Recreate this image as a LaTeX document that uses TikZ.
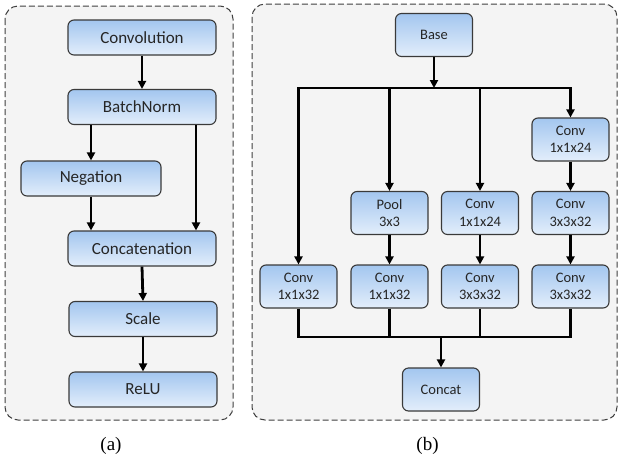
\documentclass[tikz,border=0pt]{standalone}
\usepackage{fontspec}
\setmainfont{Liberation Serif}
\newfontfamily\boxfont{Carlito}
\usetikzlibrary{arrows.meta,positioning}
\definecolor{boxtop}{HTML}{A3C6EF}
\definecolor{boxbot}{HTML}{E3EEFB}
\definecolor{panelbg}{HTML}{F4F4F4}
\definecolor{edge}{HTML}{3A3A3A}
\tikzset{
  blk/.style={draw=edge, line width=1.1pt, rounded corners=6pt, top color=boxtop, bottom color=boxbot,
    inner sep=0pt, align=center, text=black!85},
  ablk/.style={blk, minimum height=35pt, font=\boxfont\fontsize{17}{20}\selectfont},
  bblk/.style={blk, minimum width=77pt, minimum height=43pt, font=\boxfont\fontsize{14.5}{17.5}\selectfont},
  panel/.style={draw=black!75, line width=1pt, dash pattern=on 6pt off 3pt, rounded corners=13pt, fill=panelbg},
  conn/.style={line width=2.8pt, -{Triangle[length=8pt,width=8pt]}},
  plain/.style={line width=2.8pt},
  captext/.style={font=\fontsize{19}{22}\selectfont}
}
\begin{document}
\begin{tikzpicture}[x=1pt,y=-1pt]
\useasboundingbox (0,0) rectangle (619,459);
\fill[white] (0,0) rectangle (619,459);
% panels
\draw[panel] (5,6) rectangle (233,420);
\draw[panel] (252,4) rectangle (617,420);
% panel (a)
\node[ablk, minimum width=148pt] (conv) at (142,37.5) {Convolution};
\node[ablk, minimum width=148pt] (bn) at (142,107) {BatchNorm};
\node[ablk, minimum width=140pt] (neg) at (91,178.5) {Negation};
\node[ablk, minimum width=148pt] (cat) at (142,248.5) {Concatenation};
\node[ablk, minimum width=148pt] (scale) at (143,319) {Scale};
\node[ablk, minimum width=148pt] (relu) at (143,389.5) {ReLU};
\draw[conn] (conv.south) -- (bn.north);
\draw[conn] (bn.south -| neg.north) -- (neg.north);
\draw[conn] (bn.south -| 196,0) -- (cat.north -| 196,0);
\draw[conn] (neg.south) -- (cat.north -| neg.south);
\draw[conn] (cat.south) -- (scale.north);
\draw[conn] (scale.south) -- (relu.north);
\node[captext] (capa) at (111,446) {(a)};
% panel (b)
\node[bblk] (base) at (434,35) {Base};
\node[bblk] (c11) at (570.5,139.5) {Conv\\1x1x24};
\node[bblk] (pool) at (389.5,213) {Pool\\3x3};
\node[bblk] (c21) at (480,213) {Conv\\1x1x24};
\node[bblk] (c22) at (570.5,213) {Conv\\3x3x32};
\node[bblk] (d1) at (298.5,286.5) {Conv\\1x1x32};
\node[bblk] (d2) at (389.5,286.5) {Conv\\1x1x32};
\node[bblk] (d3) at (480,286.5) {Conv\\3x3x32};
\node[bblk] (d4) at (570.5,286.5) {Conv\\3x3x32};
\node[bblk] (concat) at (441,389.5) {Concat};
\coordinate (sl) at (298.5,88);
\coordinate (sr) at (570.5,88);
\coordinate (ml) at (298.5,337);
\coordinate (mr) at (570.5,337);
\draw[plain, line cap=rect] (sl) -- (sr);
\draw[conn] (base.south) -- (base.south |- sl);
\draw[conn] (sl) -- (d1.north);
\draw[conn] (pool.north |- sl) -- (pool.north);
\draw[conn] (c21.north |- sl) -- (c21.north);
\draw[conn] (sr) -- (c11.north);
\draw[conn] (c11.south) -- (c22.north);
\draw[conn] (pool.south) -- (d2.north);
\draw[conn] (c21.south) -- (d3.north);
\draw[conn] (c22.south) -- (d4.north);
\draw[plain, line join=miter] (d1.south) -- (ml) -- (mr) -- (d4.south);
\draw[plain] (d2.south) -- (d2.south |- ml);
\draw[plain] (d3.south) -- (d3.south |- ml);
\draw[conn] (concat.north |- ml) -- (concat.north);
\node[captext] (capb) at (427.5,446) {(b)};
\end{tikzpicture}
\end{document}
